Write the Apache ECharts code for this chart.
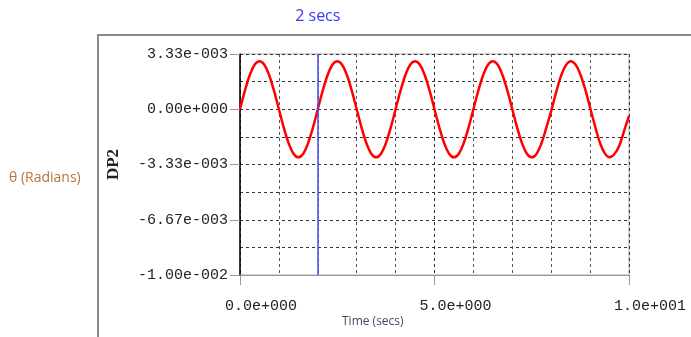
<!DOCTYPE html>
<html>
<head>
<meta charset="utf-8">
<script src="https://cdn.jsdelivr.net/npm/echarts@6/dist/echarts.min.js"></script>
<style>
  html, body { margin: 0; padding: 0; background: #fff; }
  #chart { width: 691px; height: 337px; }
</style>
</head>
<body>
<div id="chart"></div>
<script>
// time samples (s) and DP2 values (x1e-3 rad)
const times = [];
for (let i = 0; i <= 80; i++) times.push(i * 0.125);
const dp2 = [
  0, 1.11, 2.05, 2.68, 2.9, 2.68, 2.05, 1.11, 0, -1.11, -2.05, -2.68, -2.9, -2.68, -2.05, -1.11,
  0, 1.11, 2.05, 2.68, 2.9, 2.68, 2.05, 1.11, 0, -1.11, -2.05, -2.68, -2.9, -2.68, -2.05, -1.11,
  0, 1.11, 2.05, 2.68, 2.9, 2.68, 2.05, 1.11, 0, -1.11, -2.05, -2.68, -2.9, -2.68, -2.05, -1.11,
  0, 1.11, 2.05, 2.68, 2.9, 2.68, 2.05, 1.11, 0, -1.11, -2.05, -2.68, -2.9, -2.68, -2.05, -1.11,
  -0.1, 1.0, 2.0, 2.65, 2.9, 2.7, 2.1, 1.2, 0.1, -1.0, -2.0, -2.65, -2.9, -2.7, -2.2, -1.3,
  -0.4
];
const yTickLabels = ['-1.00e-002', '-6.67e-003', '-3.33e-003', '0.00e+000', '3.33e-003'];
const xTickLabels = ['0.0e+000', '5.0e+000', '1.0e+001'];
const markerTime = 2;

const chart = echarts.init(document.getElementById('chart'));
const monoFont = '"Liberation Mono", "DejaVu Sans Mono", monospace';

chart.setOption({
  animation: false,
  backgroundColor: '#fff',
  grid: {
    left: 240, right: 62, top: 54, bottom: 62,
    show: true, borderColor: '#aaa', borderWidth: 1
  },
  graphic: [
    {
      type: 'rect', silent: true, z: -1,
      shape: { x: 98, y: 35, width: 620, height: 400 },
      style: { fill: 'none', stroke: '#8a8a8a', lineWidth: 2 }
    },
    {
      type: 'text', left: 9, top: 171,
      style: { text: 'θ (Radians)', fill: '#b0763a', font: '14px "Open Sans", sans-serif' }
    },
    {
      type: 'text', left: 342, top: 316,
      style: { text: 'Time (secs)', fill: '#404a62', font: '12px "Open Sans", sans-serif' }
    }
  ],
  xAxis: {
    type: 'value', min: 0, max: 10, interval: 5,
    axisLine: { onZero: false, lineStyle: { color: '#999', width: 1 } },
    axisTick: { show: true, length: 10, lineStyle: { color: '#999' } },
    axisLabel: {
      margin: 24, color: '#222', fontFamily: monoFont, fontSize: 15,
      padding: [0, 0, 0, 42],
      formatter: (v) => xTickLabels[Math.round(v / 5)]
    },
    splitLine: { show: true, lineStyle: { color: '#333', type: [3, 3], width: 1 } },
    minorTick: { show: false, splitNumber: 5 },
    minorSplitLine: { show: true, lineStyle: { color: '#555', type: [3, 3], width: 1 } }
  },
  yAxis: {
    type: 'value', min: -0.01, max: 1 / 300, interval: 1 / 300,
    name: 'DP2', nameLocation: 'middle', nameGap: 118, nameRotate: 90,
    nameTextStyle: { fontFamily: '"Liberation Serif", serif', fontWeight: 'bold', fontSize: 17, color: '#222' },
    axisLine: { show: true, onZero: false, lineStyle: { color: '#000', width: 1.5 } },
    axisTick: { show: true, length: 10, lineStyle: { color: '#999' } },
    axisLabel: {
      margin: 12, color: '#222', fontFamily: monoFont, fontSize: 15,
      formatter: (v) => yTickLabels[Math.round(v * 300) + 3]
    },
    splitLine: { show: true, lineStyle: { color: '#333', type: [3, 3], width: 1 } },
    minorTick: { show: false, splitNumber: 2 },
    minorSplitLine: { show: true, lineStyle: { color: '#333', type: [3, 3], width: 1 } }
  },
  series: [{
    type: 'line',
    data: times.map((t, i) => [t, dp2[i] / 1000]),
    smooth: 0.4,
    showSymbol: false,
    lineStyle: { color: '#ff0000', width: 2.5 },
    z: 3,
    markLine: {
      silent: true, symbol: 'none',
      lineStyle: { color: '#4b4bee', width: 1.5, type: 'solid' },
      label: {
        show: true, position: 'end', distance: 30,
        formatter: markerTime + ' secs', color: '#3838ff',
        fontFamily: '"Open Sans", sans-serif', fontSize: 16
      },
      data: [{ xAxis: markerTime }]
    }
  }]
});
</script>
</body>
</html>
